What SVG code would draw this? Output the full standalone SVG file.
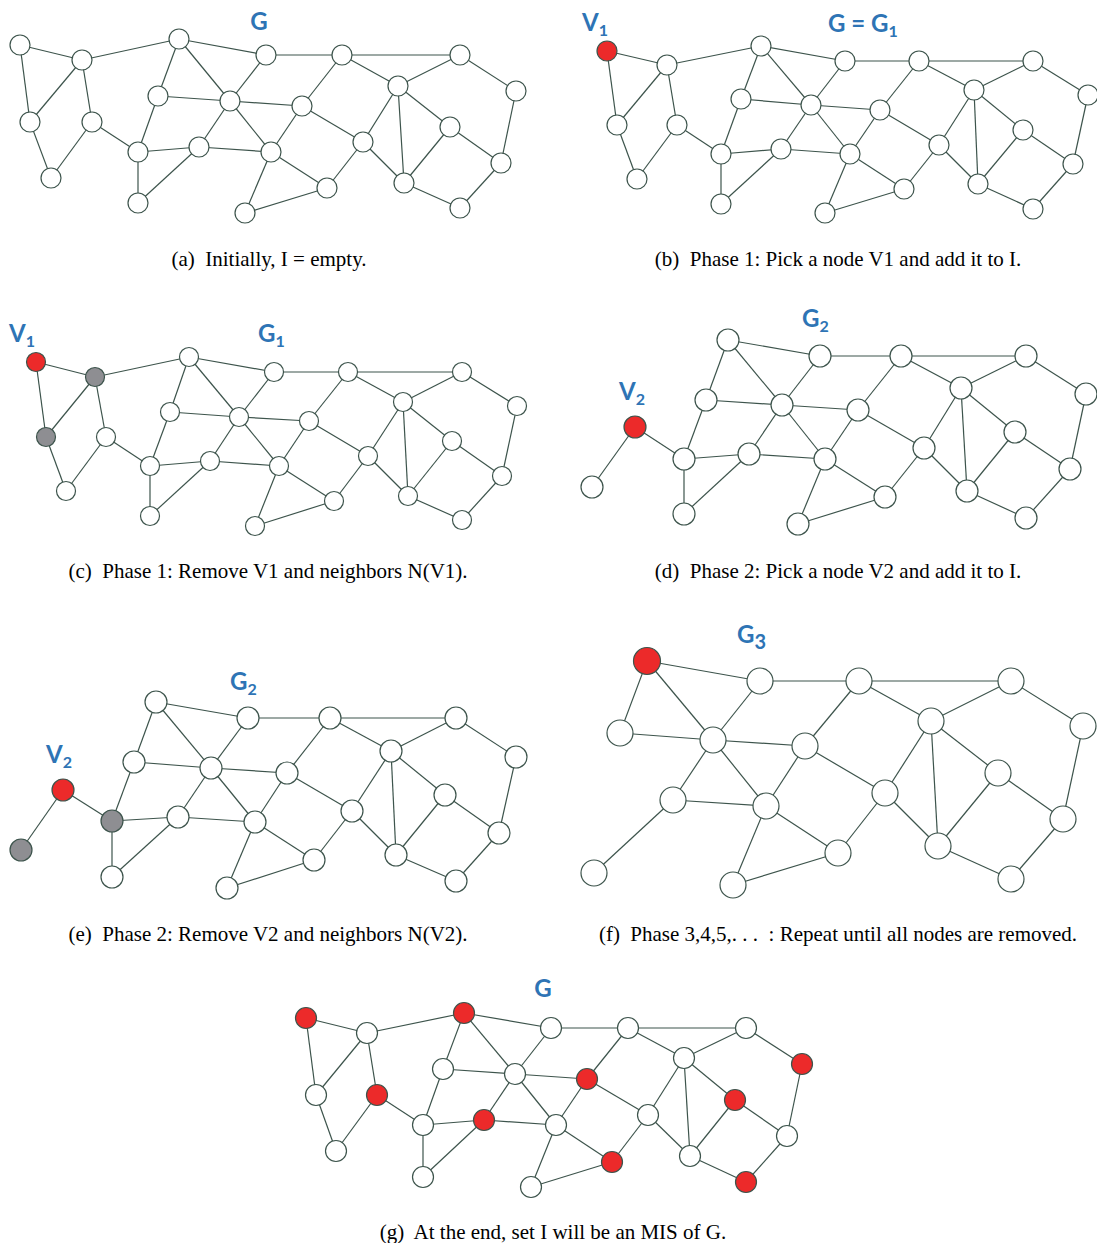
<svg xmlns="http://www.w3.org/2000/svg" width="1097" height="1243" viewBox="0 0 1097 1243">
<style>
  .edges line { stroke: #3d544c; stroke-width: 1.2; fill: none; }
  .node circle { fill: #ffffff; stroke: #3d544c; stroke-width: 1.2; }
  .node.pick circle { fill: #ec2a2a; }
  .node.gone circle { fill: #8e8e92; }
  .lbl { font-family: Lato, "Open Sans", "Liberation Sans", sans-serif; font-weight: bold; fill: #2e74b5; font-size: 24px; }
  .cap { font-family: "Liberation Serif", "Times New Roman", serif; font-size: 21px; fill: #000; text-anchor: middle; white-space: pre; }
</style>
<rect width="1097" height="1243" fill="#ffffff"/>

<!-- (a) initial graph G -->
<g id="panel-a">
  <g id="a-edges" class="edges">
    <line x1="20" y1="45" x2="82" y2="60"/><line x1="20" y1="45" x2="30" y2="122"/><line x1="82" y1="60" x2="30" y2="122"/>
    <line x1="82" y1="60" x2="92" y2="122"/><line x1="82" y1="60" x2="179" y2="39"/><line x1="30" y1="122" x2="51" y2="178"/>
    <line x1="92" y1="122" x2="51" y2="178"/><line x1="92" y1="122" x2="138" y2="152"/><line x1="179" y1="39" x2="266" y2="55"/>
    <line x1="179" y1="39" x2="158" y2="96"/><line x1="179" y1="39" x2="230" y2="101"/><line x1="266" y1="55" x2="230" y2="101"/>
    <line x1="158" y1="96" x2="230" y2="101"/><line x1="158" y1="96" x2="138" y2="152"/><line x1="230" y1="101" x2="199" y2="147"/>
    <line x1="230" y1="101" x2="271" y2="152"/><line x1="230" y1="101" x2="302" y2="106"/><line x1="138" y1="152" x2="199" y2="147"/>
    <line x1="138" y1="152" x2="138" y2="203"/><line x1="199" y1="147" x2="138" y2="203"/><line x1="199" y1="147" x2="271" y2="152"/>
    <line x1="271" y1="152" x2="245" y2="213"/><line x1="271" y1="152" x2="327" y2="188"/><line x1="245" y1="213" x2="327" y2="188"/>
    <line x1="266" y1="55" x2="342" y2="55"/><line x1="342" y1="55" x2="460" y2="55"/><line x1="342" y1="55" x2="398" y2="86"/>
    <line x1="342" y1="55" x2="302" y2="106"/><line x1="302" y1="106" x2="271" y2="152"/><line x1="302" y1="106" x2="363" y2="142"/>
    <line x1="460" y1="55" x2="398" y2="86"/><line x1="398" y1="86" x2="363" y2="142"/><line x1="363" y1="142" x2="327" y2="188"/>
    <line x1="398" y1="86" x2="404" y2="183"/><line x1="398" y1="86" x2="450" y2="127"/><line x1="363" y1="142" x2="404" y2="183"/>
    <line x1="450" y1="127" x2="404" y2="183"/><line x1="450" y1="127" x2="501" y2="163"/><line x1="460" y1="55" x2="516" y2="91"/>
    <line x1="516" y1="91" x2="501" y2="163"/><line x1="501" y1="163" x2="460" y2="208"/><line x1="404" y1="183" x2="460" y2="208"/>
  </g>
  <g id="a-n1" class="node"><circle cx="20" cy="45" r="10"/></g>
  <g id="a-n2" class="node"><circle cx="82" cy="60" r="10"/></g>
  <g id="a-n3" class="node"><circle cx="179" cy="39" r="10"/></g>
  <g id="a-n4" class="node"><circle cx="266" cy="55" r="10"/></g>
  <g id="a-n5" class="node"><circle cx="30" cy="122" r="10"/></g>
  <g id="a-n6" class="node"><circle cx="92" cy="122" r="10"/></g>
  <g id="a-n7" class="node"><circle cx="51" cy="178" r="10"/></g>
  <g id="a-n8" class="node"><circle cx="158" cy="96" r="10"/></g>
  <g id="a-n9" class="node"><circle cx="230" cy="101" r="10"/></g>
  <g id="a-n10" class="node"><circle cx="138" cy="152" r="10"/></g>
  <g id="a-n11" class="node"><circle cx="199" cy="147" r="10"/></g>
  <g id="a-n12" class="node"><circle cx="271" cy="152" r="10"/></g>
  <g id="a-n13" class="node"><circle cx="138" cy="203" r="10"/></g>
  <g id="a-n14" class="node"><circle cx="245" cy="213" r="10"/></g>
  <g id="a-n15" class="node"><circle cx="342" cy="55" r="10"/></g>
  <g id="a-n16" class="node"><circle cx="460" cy="55" r="10"/></g>
  <g id="a-n17" class="node"><circle cx="398" cy="86" r="10"/></g>
  <g id="a-n18" class="node"><circle cx="516" cy="91" r="10"/></g>
  <g id="a-n19" class="node"><circle cx="302" cy="106" r="10"/></g>
  <g id="a-n20" class="node"><circle cx="450" cy="127" r="10"/></g>
  <g id="a-n21" class="node"><circle cx="363" cy="142" r="10"/></g>
  <g id="a-n22" class="node"><circle cx="501" cy="163" r="10"/></g>
  <g id="a-n23" class="node"><circle cx="404" cy="183" r="10"/></g>
  <g id="a-n24" class="node"><circle cx="327" cy="188" r="10"/></g>
  <g id="a-n25" class="node"><circle cx="460" cy="208" r="10"/></g>
  <text class="lbl" x="259" y="30" text-anchor="middle">G</text>
  <text class="cap" x="269" y="266" xml:space="preserve">(a)  Initially, I = empty.</text>
</g>

<!-- (b) pick V1 -->
<g id="panel-b">
  <g id="b-edges" class="edges">
    <line x1="607" y1="51" x2="667" y2="65"/><line x1="607" y1="51" x2="617" y2="125"/><line x1="667" y1="65" x2="617" y2="125"/>
    <line x1="667" y1="65" x2="677" y2="125"/><line x1="667" y1="65" x2="761" y2="46"/><line x1="617" y1="125" x2="637" y2="179"/>
    <line x1="677" y1="125" x2="637" y2="179"/><line x1="677" y1="125" x2="721" y2="154"/><line x1="761" y1="46" x2="845" y2="61"/>
    <line x1="761" y1="46" x2="741" y2="99"/><line x1="761" y1="46" x2="811" y2="105"/><line x1="845" y1="61" x2="811" y2="105"/>
    <line x1="741" y1="99" x2="811" y2="105"/><line x1="741" y1="99" x2="721" y2="154"/><line x1="811" y1="105" x2="781" y2="149"/>
    <line x1="811" y1="105" x2="850" y2="154"/><line x1="811" y1="105" x2="880" y2="110"/><line x1="721" y1="154" x2="781" y2="149"/>
    <line x1="721" y1="154" x2="721" y2="204"/><line x1="781" y1="149" x2="721" y2="204"/><line x1="781" y1="149" x2="850" y2="154"/>
    <line x1="850" y1="154" x2="825" y2="213"/><line x1="850" y1="154" x2="904" y2="189"/><line x1="825" y1="213" x2="904" y2="189"/>
    <line x1="845" y1="61" x2="919" y2="61"/><line x1="919" y1="61" x2="1033" y2="61"/><line x1="919" y1="61" x2="974" y2="90"/>
    <line x1="919" y1="61" x2="880" y2="110"/><line x1="880" y1="110" x2="850" y2="154"/><line x1="880" y1="110" x2="939" y2="145"/>
    <line x1="1033" y1="61" x2="974" y2="90"/><line x1="974" y1="90" x2="939" y2="145"/><line x1="939" y1="145" x2="904" y2="189"/>
    <line x1="974" y1="90" x2="978" y2="184"/><line x1="974" y1="90" x2="1023" y2="130"/><line x1="939" y1="145" x2="978" y2="184"/>
    <line x1="1023" y1="130" x2="978" y2="184"/><line x1="1023" y1="130" x2="1073" y2="164"/><line x1="1033" y1="61" x2="1088" y2="95"/>
    <line x1="1088" y1="95" x2="1073" y2="164"/><line x1="1073" y1="164" x2="1033" y2="209"/><line x1="978" y1="184" x2="1033" y2="209"/>
  </g>
  <g id="b-n1" class="node pick"><circle cx="607" cy="51" r="10"/></g>
  <g id="b-n2" class="node"><circle cx="667" cy="65" r="10"/></g>
  <g id="b-n3" class="node"><circle cx="761" cy="46" r="10"/></g>
  <g id="b-n4" class="node"><circle cx="845" cy="61" r="10"/></g>
  <g id="b-n5" class="node"><circle cx="617" cy="125" r="10"/></g>
  <g id="b-n6" class="node"><circle cx="677" cy="125" r="10"/></g>
  <g id="b-n7" class="node"><circle cx="637" cy="179" r="10"/></g>
  <g id="b-n8" class="node"><circle cx="741" cy="99" r="10"/></g>
  <g id="b-n9" class="node"><circle cx="811" cy="105" r="10"/></g>
  <g id="b-n10" class="node"><circle cx="721" cy="154" r="10"/></g>
  <g id="b-n11" class="node"><circle cx="781" cy="149" r="10"/></g>
  <g id="b-n12" class="node"><circle cx="850" cy="154" r="10"/></g>
  <g id="b-n13" class="node"><circle cx="721" cy="204" r="10"/></g>
  <g id="b-n14" class="node"><circle cx="825" cy="213" r="10"/></g>
  <g id="b-n15" class="node"><circle cx="919" cy="61" r="10"/></g>
  <g id="b-n16" class="node"><circle cx="1033" cy="61" r="10"/></g>
  <g id="b-n17" class="node"><circle cx="974" cy="90" r="10"/></g>
  <g id="b-n18" class="node"><circle cx="1088" cy="95" r="10"/></g>
  <g id="b-n19" class="node"><circle cx="880" cy="110" r="10"/></g>
  <g id="b-n20" class="node"><circle cx="1023" cy="130" r="10"/></g>
  <g id="b-n21" class="node"><circle cx="939" cy="145" r="10"/></g>
  <g id="b-n22" class="node"><circle cx="1073" cy="164" r="10"/></g>
  <g id="b-n23" class="node"><circle cx="978" cy="184" r="10"/></g>
  <g id="b-n24" class="node"><circle cx="904" cy="189" r="10"/></g>
  <g id="b-n25" class="node"><circle cx="1033" cy="209" r="10"/></g>
  <text class="lbl" x="582" y="31">V<tspan font-size="16" dy="5">1</tspan></text>
  <text class="lbl" x="828" y="32">G = G<tspan font-size="16" dy="5">1</tspan></text>
  <text class="cap" x="838" y="266" xml:space="preserve">(b)  Phase 1: Pick a node V1 and add it to I.</text>
</g>

<!-- (c) remove V1 and its neighbours -->
<g id="panel-c">
  <g id="c-edges" class="edges">
    <line x1="36" y1="362" x2="95" y2="377"/><line x1="36" y1="362" x2="46" y2="437"/><line x1="95" y1="377" x2="46" y2="437"/>
    <line x1="95" y1="377" x2="106" y2="437"/><line x1="95" y1="377" x2="189" y2="357"/><line x1="46" y1="437" x2="66" y2="491"/>
    <line x1="106" y1="437" x2="66" y2="491"/><line x1="106" y1="437" x2="150" y2="466"/><line x1="189" y1="357" x2="274" y2="372"/>
    <line x1="189" y1="357" x2="170" y2="412"/><line x1="189" y1="357" x2="239" y2="417"/><line x1="274" y1="372" x2="239" y2="417"/>
    <line x1="170" y1="412" x2="239" y2="417"/><line x1="170" y1="412" x2="150" y2="466"/><line x1="239" y1="417" x2="210" y2="461"/>
    <line x1="239" y1="417" x2="279" y2="466"/><line x1="239" y1="417" x2="309" y2="421"/><line x1="150" y1="466" x2="210" y2="461"/>
    <line x1="150" y1="466" x2="150" y2="516"/><line x1="210" y1="461" x2="150" y2="516"/><line x1="210" y1="461" x2="279" y2="466"/>
    <line x1="279" y1="466" x2="255" y2="526"/><line x1="279" y1="466" x2="334" y2="501"/><line x1="255" y1="526" x2="334" y2="501"/>
    <line x1="274" y1="372" x2="348" y2="372"/><line x1="348" y1="372" x2="462" y2="372"/><line x1="348" y1="372" x2="403" y2="402"/>
    <line x1="348" y1="372" x2="309" y2="421"/><line x1="309" y1="421" x2="279" y2="466"/><line x1="309" y1="421" x2="368" y2="456"/>
    <line x1="462" y1="372" x2="403" y2="402"/><line x1="403" y1="402" x2="368" y2="456"/><line x1="368" y1="456" x2="334" y2="501"/>
    <line x1="403" y1="402" x2="408" y2="496"/><line x1="403" y1="402" x2="452" y2="441"/><line x1="368" y1="456" x2="408" y2="496"/>
    <line x1="452" y1="441" x2="408" y2="496"/><line x1="452" y1="441" x2="502" y2="476"/><line x1="462" y1="372" x2="517" y2="406"/>
    <line x1="517" y1="406" x2="502" y2="476"/><line x1="502" y1="476" x2="462" y2="520"/><line x1="408" y1="496" x2="462" y2="520"/>
  </g>
  <g id="c-n1" class="node pick"><circle cx="36" cy="362" r="9.5"/></g>
  <g id="c-n2" class="node gone"><circle cx="95" cy="377" r="9.5"/></g>
  <g id="c-n3" class="node"><circle cx="189" cy="357" r="9.5"/></g>
  <g id="c-n4" class="node"><circle cx="274" cy="372" r="9.5"/></g>
  <g id="c-n5" class="node gone"><circle cx="46" cy="437" r="9.5"/></g>
  <g id="c-n6" class="node"><circle cx="106" cy="437" r="9.5"/></g>
  <g id="c-n7" class="node"><circle cx="66" cy="491" r="9.5"/></g>
  <g id="c-n8" class="node"><circle cx="170" cy="412" r="9.5"/></g>
  <g id="c-n9" class="node"><circle cx="239" cy="417" r="9.5"/></g>
  <g id="c-n10" class="node"><circle cx="150" cy="466" r="9.5"/></g>
  <g id="c-n11" class="node"><circle cx="210" cy="461" r="9.5"/></g>
  <g id="c-n12" class="node"><circle cx="279" cy="466" r="9.5"/></g>
  <g id="c-n13" class="node"><circle cx="150" cy="516" r="9.5"/></g>
  <g id="c-n14" class="node"><circle cx="255" cy="526" r="9.5"/></g>
  <g id="c-n15" class="node"><circle cx="348" cy="372" r="9.5"/></g>
  <g id="c-n16" class="node"><circle cx="462" cy="372" r="9.5"/></g>
  <g id="c-n17" class="node"><circle cx="403" cy="402" r="9.5"/></g>
  <g id="c-n18" class="node"><circle cx="517" cy="406" r="9.5"/></g>
  <g id="c-n19" class="node"><circle cx="309" cy="421" r="9.5"/></g>
  <g id="c-n20" class="node"><circle cx="452" cy="441" r="9.5"/></g>
  <g id="c-n21" class="node"><circle cx="368" cy="456" r="9.5"/></g>
  <g id="c-n22" class="node"><circle cx="502" cy="476" r="9.5"/></g>
  <g id="c-n23" class="node"><circle cx="408" cy="496" r="9.5"/></g>
  <g id="c-n24" class="node"><circle cx="334" cy="501" r="9.5"/></g>
  <g id="c-n25" class="node"><circle cx="462" cy="520" r="9.5"/></g>
  <text class="lbl" x="9" y="342">V<tspan font-size="16" dy="5">1</tspan></text>
  <text class="lbl" x="258" y="342">G<tspan font-size="16" dy="5">1</tspan></text>
  <text class="cap" x="268" y="578" xml:space="preserve">(c)  Phase 1: Remove V1 and neighbors N(V1).</text>
</g>

<!-- (d) pick V2 in G2 -->
<g id="panel-d">
  <g id="d-edges" class="edges">
    <line x1="635" y1="427" x2="592" y2="487"/><line x1="635" y1="427" x2="684" y2="459"/>
    <line x1="728" y1="340" x2="820" y2="356"/><line x1="728" y1="340" x2="706" y2="400"/><line x1="728" y1="340" x2="782" y2="405"/>
    <line x1="820" y1="356" x2="782" y2="405"/><line x1="706" y1="400" x2="782" y2="405"/><line x1="706" y1="400" x2="684" y2="459"/>
    <line x1="782" y1="405" x2="749" y2="454"/><line x1="782" y1="405" x2="825" y2="459"/><line x1="782" y1="405" x2="858" y2="410"/>
    <line x1="684" y1="459" x2="749" y2="454"/><line x1="684" y1="459" x2="684" y2="514"/><line x1="749" y1="454" x2="684" y2="514"/>
    <line x1="749" y1="454" x2="825" y2="459"/><line x1="825" y1="459" x2="798" y2="524"/><line x1="825" y1="459" x2="885" y2="497"/>
    <line x1="798" y1="524" x2="885" y2="497"/><line x1="820" y1="356" x2="901" y2="356"/><line x1="901" y1="356" x2="1026" y2="356"/>
    <line x1="901" y1="356" x2="961" y2="388"/><line x1="901" y1="356" x2="858" y2="410"/><line x1="858" y1="410" x2="825" y2="459"/>
    <line x1="858" y1="410" x2="924" y2="448"/><line x1="1026" y1="356" x2="961" y2="388"/><line x1="961" y1="388" x2="924" y2="448"/>
    <line x1="924" y1="448" x2="885" y2="497"/><line x1="961" y1="388" x2="967" y2="491"/><line x1="961" y1="388" x2="1015" y2="432"/>
    <line x1="924" y1="448" x2="967" y2="491"/><line x1="1015" y1="432" x2="967" y2="491"/><line x1="1015" y1="432" x2="1070" y2="469"/>
    <line x1="1026" y1="356" x2="1086" y2="394"/><line x1="1086" y1="394" x2="1070" y2="469"/><line x1="1070" y1="469" x2="1026" y2="518"/>
    <line x1="967" y1="491" x2="1026" y2="518"/>
  </g>
  <g id="d-n3" class="node"><circle cx="728" cy="340" r="11"/></g>
  <g id="d-n4" class="node"><circle cx="820" cy="356" r="11"/></g>
  <g id="d-n6" class="node pick"><circle cx="635" cy="427" r="11"/></g>
  <g id="d-n7" class="node"><circle cx="592" cy="487" r="11"/></g>
  <g id="d-n8" class="node"><circle cx="706" cy="400" r="11"/></g>
  <g id="d-n9" class="node"><circle cx="782" cy="405" r="11"/></g>
  <g id="d-n10" class="node"><circle cx="684" cy="459" r="11"/></g>
  <g id="d-n11" class="node"><circle cx="749" cy="454" r="11"/></g>
  <g id="d-n12" class="node"><circle cx="825" cy="459" r="11"/></g>
  <g id="d-n13" class="node"><circle cx="684" cy="514" r="11"/></g>
  <g id="d-n14" class="node"><circle cx="798" cy="524" r="11"/></g>
  <g id="d-n15" class="node"><circle cx="901" cy="356" r="11"/></g>
  <g id="d-n16" class="node"><circle cx="1026" cy="356" r="11"/></g>
  <g id="d-n17" class="node"><circle cx="961" cy="388" r="11"/></g>
  <g id="d-n18" class="node"><circle cx="1086" cy="394" r="11"/></g>
  <g id="d-n19" class="node"><circle cx="858" cy="410" r="11"/></g>
  <g id="d-n20" class="node"><circle cx="1015" cy="432" r="11"/></g>
  <g id="d-n21" class="node"><circle cx="924" cy="448" r="11"/></g>
  <g id="d-n22" class="node"><circle cx="1070" cy="469" r="11"/></g>
  <g id="d-n23" class="node"><circle cx="967" cy="491" r="11"/></g>
  <g id="d-n24" class="node"><circle cx="885" cy="497" r="11"/></g>
  <g id="d-n25" class="node"><circle cx="1026" cy="518" r="11"/></g>
  <text class="lbl" x="802" y="327">G<tspan font-size="16" dy="5">2</tspan></text>
  <text class="lbl" x="619" y="400">V<tspan font-size="16" dy="5">2</tspan></text>
  <text class="cap" x="838" y="578" xml:space="preserve">(d)  Phase 2: Pick a node V2 and add it to I.</text>
</g>

<!-- (e) remove V2 and its neighbours -->
<g id="panel-e">
  <g id="e-edges" class="edges">
    <line x1="63" y1="790" x2="21" y2="850"/><line x1="63" y1="790" x2="112" y2="821"/>
    <line x1="156" y1="702" x2="248" y2="718"/><line x1="156" y1="702" x2="134" y2="762"/><line x1="156" y1="702" x2="211" y2="768"/>
    <line x1="248" y1="718" x2="211" y2="768"/><line x1="134" y1="762" x2="211" y2="768"/><line x1="134" y1="762" x2="112" y2="821"/>
    <line x1="211" y1="768" x2="178" y2="817"/><line x1="211" y1="768" x2="255" y2="822"/><line x1="211" y1="768" x2="287" y2="773"/>
    <line x1="112" y1="821" x2="178" y2="817"/><line x1="112" y1="821" x2="112" y2="877"/><line x1="178" y1="817" x2="112" y2="877"/>
    <line x1="178" y1="817" x2="255" y2="822"/><line x1="255" y1="822" x2="227" y2="888"/><line x1="255" y1="822" x2="314" y2="860"/>
    <line x1="227" y1="888" x2="314" y2="860"/><line x1="248" y1="718" x2="330" y2="718"/><line x1="330" y1="718" x2="456" y2="718"/>
    <line x1="330" y1="718" x2="391" y2="751"/><line x1="330" y1="718" x2="287" y2="773"/><line x1="287" y1="773" x2="255" y2="822"/>
    <line x1="287" y1="773" x2="352" y2="811"/><line x1="456" y1="718" x2="391" y2="751"/><line x1="391" y1="751" x2="352" y2="811"/>
    <line x1="352" y1="811" x2="314" y2="860"/><line x1="391" y1="751" x2="396" y2="855"/><line x1="391" y1="751" x2="445" y2="795"/>
    <line x1="352" y1="811" x2="396" y2="855"/><line x1="445" y1="795" x2="396" y2="855"/><line x1="445" y1="795" x2="499" y2="833"/>
    <line x1="456" y1="718" x2="516" y2="757"/><line x1="516" y1="757" x2="499" y2="833"/><line x1="499" y1="833" x2="456" y2="881"/>
    <line x1="396" y1="855" x2="456" y2="881"/>
  </g>
  <g id="e-n3" class="node"><circle cx="156" cy="702" r="11"/></g>
  <g id="e-n4" class="node"><circle cx="248" cy="718" r="11"/></g>
  <g id="e-n6" class="node pick"><circle cx="63" cy="790" r="11"/></g>
  <g id="e-n7" class="node gone"><circle cx="21" cy="850" r="11"/></g>
  <g id="e-n8" class="node"><circle cx="134" cy="762" r="11"/></g>
  <g id="e-n9" class="node"><circle cx="211" cy="768" r="11"/></g>
  <g id="e-n10" class="node gone"><circle cx="112" cy="821" r="11"/></g>
  <g id="e-n11" class="node"><circle cx="178" cy="817" r="11"/></g>
  <g id="e-n12" class="node"><circle cx="255" cy="822" r="11"/></g>
  <g id="e-n13" class="node"><circle cx="112" cy="877" r="11"/></g>
  <g id="e-n14" class="node"><circle cx="227" cy="888" r="11"/></g>
  <g id="e-n15" class="node"><circle cx="330" cy="718" r="11"/></g>
  <g id="e-n16" class="node"><circle cx="456" cy="718" r="11"/></g>
  <g id="e-n17" class="node"><circle cx="391" cy="751" r="11"/></g>
  <g id="e-n18" class="node"><circle cx="516" cy="757" r="11"/></g>
  <g id="e-n19" class="node"><circle cx="287" cy="773" r="11"/></g>
  <g id="e-n20" class="node"><circle cx="445" cy="795" r="11"/></g>
  <g id="e-n21" class="node"><circle cx="352" cy="811" r="11"/></g>
  <g id="e-n22" class="node"><circle cx="499" cy="833" r="11"/></g>
  <g id="e-n23" class="node"><circle cx="396" cy="855" r="11"/></g>
  <g id="e-n24" class="node"><circle cx="314" cy="860" r="11"/></g>
  <g id="e-n25" class="node"><circle cx="456" cy="881" r="11"/></g>
  <text class="lbl" x="230" y="690">G<tspan font-size="16" dy="5">2</tspan></text>
  <text class="lbl" x="46" y="763">V<tspan font-size="16" dy="5">2</tspan></text>
  <text class="cap" x="268" y="941" xml:space="preserve">(e)  Phase 2: Remove V2 and neighbors N(V2).</text>
</g>

<!-- (f) remaining graph G3 -->
<g id="panel-f">
  <g id="f-edges" class="edges">
    <line x1="647" y1="661" x2="760" y2="681"/><line x1="647" y1="661" x2="620" y2="733"/><line x1="647" y1="661" x2="713" y2="740"/>
    <line x1="760" y1="681" x2="713" y2="740"/><line x1="620" y1="733" x2="713" y2="740"/><line x1="713" y1="740" x2="673" y2="800"/>
    <line x1="713" y1="740" x2="766" y2="806"/><line x1="713" y1="740" x2="805" y2="746"/><line x1="673" y1="800" x2="594" y2="873"/>
    <line x1="673" y1="800" x2="766" y2="806"/><line x1="766" y1="806" x2="733" y2="885"/><line x1="766" y1="806" x2="838" y2="853"/>
    <line x1="733" y1="885" x2="838" y2="853"/><line x1="760" y1="681" x2="859" y2="681"/><line x1="859" y1="681" x2="1011" y2="681"/>
    <line x1="859" y1="681" x2="931" y2="721"/><line x1="859" y1="681" x2="805" y2="746"/><line x1="805" y1="746" x2="766" y2="806"/>
    <line x1="805" y1="746" x2="885" y2="793"/><line x1="1011" y1="681" x2="931" y2="721"/><line x1="931" y1="721" x2="885" y2="793"/>
    <line x1="885" y1="793" x2="838" y2="853"/><line x1="931" y1="721" x2="938" y2="846"/><line x1="931" y1="721" x2="998" y2="773"/>
    <line x1="885" y1="793" x2="938" y2="846"/><line x1="998" y1="773" x2="938" y2="846"/><line x1="998" y1="773" x2="1063" y2="819"/>
    <line x1="1011" y1="681" x2="1083" y2="726"/><line x1="1083" y1="726" x2="1063" y2="819"/><line x1="1063" y1="819" x2="1011" y2="879"/>
    <line x1="938" y1="846" x2="1011" y2="879"/>
  </g>
  <g id="f-n3" class="node pick"><circle cx="647" cy="661" r="13.5"/></g>
  <g id="f-n4" class="node"><circle cx="760" cy="681" r="13"/></g>
  <g id="f-n8" class="node"><circle cx="620" cy="733" r="13"/></g>
  <g id="f-n9" class="node"><circle cx="713" cy="740" r="13"/></g>
  <g id="f-n11" class="node"><circle cx="673" cy="800" r="13"/></g>
  <g id="f-n12" class="node"><circle cx="766" cy="806" r="13"/></g>
  <g id="f-n13" class="node"><circle cx="594" cy="873" r="13"/></g>
  <g id="f-n14" class="node"><circle cx="733" cy="885" r="13"/></g>
  <g id="f-n15" class="node"><circle cx="859" cy="681" r="13"/></g>
  <g id="f-n16" class="node"><circle cx="1011" cy="681" r="13"/></g>
  <g id="f-n17" class="node"><circle cx="931" cy="721" r="13"/></g>
  <g id="f-n18" class="node"><circle cx="1083" cy="726" r="13"/></g>
  <g id="f-n19" class="node"><circle cx="805" cy="746" r="13"/></g>
  <g id="f-n20" class="node"><circle cx="998" cy="773" r="13"/></g>
  <g id="f-n21" class="node"><circle cx="885" cy="793" r="13"/></g>
  <g id="f-n22" class="node"><circle cx="1063" cy="819" r="13"/></g>
  <g id="f-n23" class="node"><circle cx="938" cy="846" r="13"/></g>
  <g id="f-n24" class="node"><circle cx="838" cy="853" r="13"/></g>
  <g id="f-n25" class="node"><circle cx="1011" cy="879" r="13"/></g>
  <text class="lbl" x="737" y="643" font-size="30">G<tspan font-size="20" dy="6">3</tspan></text>
  <text class="cap" x="838" y="941" xml:space="preserve">(f)  Phase 3,4,5,. . .  : Repeat until all nodes are removed.</text>
</g>

<!-- (g) final independent set on G -->
<g id="panel-g">
  <g id="g-edges" class="edges">
    <line x1="306" y1="1018" x2="367" y2="1033"/><line x1="306" y1="1018" x2="316" y2="1095"/><line x1="367" y1="1033" x2="316" y2="1095"/>
    <line x1="367" y1="1033" x2="377" y2="1095"/><line x1="367" y1="1033" x2="464" y2="1013"/><line x1="316" y1="1095" x2="336" y2="1151"/>
    <line x1="377" y1="1095" x2="336" y2="1151"/><line x1="377" y1="1095" x2="423" y2="1125"/><line x1="464" y1="1013" x2="551" y2="1028"/>
    <line x1="464" y1="1013" x2="443" y2="1069"/><line x1="464" y1="1013" x2="515" y2="1074"/><line x1="551" y1="1028" x2="515" y2="1074"/>
    <line x1="443" y1="1069" x2="515" y2="1074"/><line x1="443" y1="1069" x2="423" y2="1125"/><line x1="515" y1="1074" x2="484" y2="1120"/>
    <line x1="515" y1="1074" x2="556" y2="1125"/><line x1="515" y1="1074" x2="587" y2="1079"/><line x1="423" y1="1125" x2="484" y2="1120"/>
    <line x1="423" y1="1125" x2="423" y2="1177"/><line x1="484" y1="1120" x2="423" y2="1177"/><line x1="484" y1="1120" x2="556" y2="1125"/>
    <line x1="556" y1="1125" x2="531" y2="1187"/><line x1="556" y1="1125" x2="612" y2="1162"/><line x1="531" y1="1187" x2="612" y2="1162"/>
    <line x1="551" y1="1028" x2="628" y2="1028"/><line x1="628" y1="1028" x2="746" y2="1028"/><line x1="628" y1="1028" x2="684" y2="1058"/>
    <line x1="628" y1="1028" x2="587" y2="1079"/><line x1="587" y1="1079" x2="556" y2="1125"/><line x1="587" y1="1079" x2="648" y2="1115"/>
    <line x1="746" y1="1028" x2="684" y2="1058"/><line x1="684" y1="1058" x2="648" y2="1115"/><line x1="648" y1="1115" x2="612" y2="1162"/>
    <line x1="684" y1="1058" x2="690" y2="1156"/><line x1="684" y1="1058" x2="735" y2="1100"/><line x1="648" y1="1115" x2="690" y2="1156"/>
    <line x1="735" y1="1100" x2="690" y2="1156"/><line x1="735" y1="1100" x2="787" y2="1136"/><line x1="746" y1="1028" x2="802" y2="1064"/>
    <line x1="802" y1="1064" x2="787" y2="1136"/><line x1="787" y1="1136" x2="746" y2="1182"/><line x1="690" y1="1156" x2="746" y2="1182"/>
  </g>
  <g id="g-n1" class="node pick"><circle cx="306" cy="1018" r="10.5"/></g>
  <g id="g-n2" class="node"><circle cx="367" cy="1033" r="10.5"/></g>
  <g id="g-n3" class="node pick"><circle cx="464" cy="1013" r="10.5"/></g>
  <g id="g-n4" class="node"><circle cx="551" cy="1028" r="10.5"/></g>
  <g id="g-n5" class="node"><circle cx="316" cy="1095" r="10.5"/></g>
  <g id="g-n6" class="node pick"><circle cx="377" cy="1095" r="10.5"/></g>
  <g id="g-n7" class="node"><circle cx="336" cy="1151" r="10.5"/></g>
  <g id="g-n8" class="node"><circle cx="443" cy="1069" r="10.5"/></g>
  <g id="g-n9" class="node"><circle cx="515" cy="1074" r="10.5"/></g>
  <g id="g-n10" class="node"><circle cx="423" cy="1125" r="10.5"/></g>
  <g id="g-n11" class="node pick"><circle cx="484" cy="1120" r="10.5"/></g>
  <g id="g-n12" class="node"><circle cx="556" cy="1125" r="10.5"/></g>
  <g id="g-n13" class="node"><circle cx="423" cy="1177" r="10.5"/></g>
  <g id="g-n14" class="node"><circle cx="531" cy="1187" r="10.5"/></g>
  <g id="g-n15" class="node"><circle cx="628" cy="1028" r="10.5"/></g>
  <g id="g-n16" class="node"><circle cx="746" cy="1028" r="10.5"/></g>
  <g id="g-n17" class="node"><circle cx="684" cy="1058" r="10.5"/></g>
  <g id="g-n18" class="node pick"><circle cx="802" cy="1064" r="10.5"/></g>
  <g id="g-n19" class="node pick"><circle cx="587" cy="1079" r="10.5"/></g>
  <g id="g-n20" class="node pick"><circle cx="735" cy="1100" r="10.5"/></g>
  <g id="g-n21" class="node"><circle cx="648" cy="1115" r="10.5"/></g>
  <g id="g-n22" class="node"><circle cx="787" cy="1136" r="10.5"/></g>
  <g id="g-n23" class="node"><circle cx="690" cy="1156" r="10.5"/></g>
  <g id="g-n24" class="node pick"><circle cx="612" cy="1162" r="10.5"/></g>
  <g id="g-n25" class="node pick"><circle cx="746" cy="1182" r="10.5"/></g>
  <text class="lbl" x="543" y="997" text-anchor="middle">G</text>
  <text class="cap" x="553" y="1239" xml:space="preserve">(g)  At the end, set I will be an MIS of G.</text>
</g>
</svg>
